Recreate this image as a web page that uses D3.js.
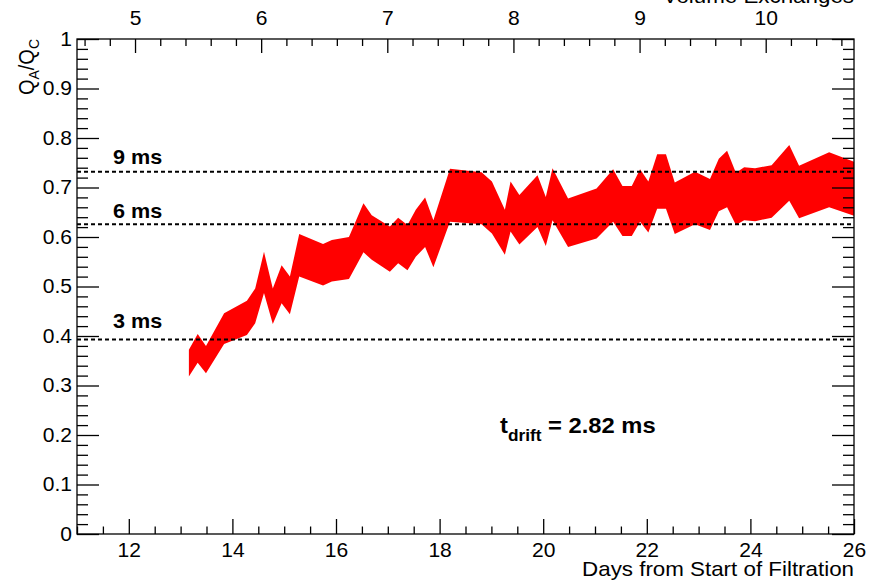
<!DOCTYPE html>
<html>
<head>
<meta charset="utf-8">
<script src="https://cdn.jsdelivr.net/npm/d3@7"></script>
<style>
  html, body { margin: 0; padding: 0; background: #fff; }
  svg { display: block; font-family: "Liberation Sans", Arial, Helvetica, sans-serif; }
</style>
</head>
<body>
<svg id="chart" width="869" height="581"></svg>
<script>
// Charge ratio band vs. time since start of filtration
const days = [13.16, 13.33, 13.49, 13.84, 14.28, 14.44, 14.61, 14.78, 14.95, 15.11,
  15.29, 15.75, 15.92, 16.25, 16.53, 16.69, 17.04, 17.20, 17.38, 17.54,
  17.72, 17.88, 18.20, 18.81, 19.01, 19.26, 19.37, 19.54, 19.89, 20.05,
  20.18, 20.48, 21.03, 21.35, 21.53, 21.71, 21.87, 22.03, 22.20, 22.37,
  22.54, 22.93, 23.22, 23.39, 23.55, 23.72, 23.88, 24.09, 24.41, 24.75,
  24.94, 25.52, 26.00];
const upper = [0.372, 0.404, 0.380, 0.446, 0.471, 0.496, 0.570, 0.496, 0.543, 0.520,
  0.606, 0.586, 0.594, 0.600, 0.668, 0.644, 0.621, 0.639, 0.624, 0.655,
  0.680, 0.634, 0.738, 0.731, 0.712, 0.655, 0.712, 0.685, 0.725, 0.681,
  0.739, 0.678, 0.698, 0.737, 0.703, 0.703, 0.737, 0.712, 0.767, 0.767,
  0.710, 0.732, 0.717, 0.758, 0.774, 0.730, 0.741, 0.739, 0.745, 0.786,
  0.744, 0.771, 0.752];
const lower = [0.318, 0.346, 0.325, 0.384, 0.402, 0.426, 0.487, 0.424, 0.466, 0.444,
  0.520, 0.502, 0.510, 0.515, 0.569, 0.554, 0.530, 0.547, 0.533, 0.560,
  0.580, 0.539, 0.631, 0.626, 0.607, 0.564, 0.611, 0.585, 0.620, 0.582,
  0.634, 0.580, 0.597, 0.631, 0.602, 0.602, 0.631, 0.609, 0.657, 0.657,
  0.606, 0.626, 0.614, 0.652, 0.660, 0.624, 0.634, 0.632, 0.639, 0.673,
  0.638, 0.660, 0.643];

// Drift-time reference levels
const refLevels = [0.393, 0.626, 0.732];
const refLabels = ["3 ms", "6 ms", "9 ms"];

// Axis tick values
const dayTicks = [12, 14, 16, 18, 20, 22, 24, 26];
const exchangeTicks = [5, 6, 7, 8, 9, 10];
const ratioTicks = [0, 0.1, 0.2, 0.3, 0.4, 0.5, 0.6, 0.7, 0.8, 0.9, 1];

const dayDomain = [11, 26];
const exchangeDomain = [4.54, 10.70];
const ratioDomain = [0, 1];

const svg = d3.select("#chart");
const L = 77, R = 854, T = 39, B = 534;
const TXS = 1.08;          // horizontal text stretch
const TICK_FS = 19.5;      // tick label size
const labelGap = [11, 6, 8]; // label baseline above each reference line

const x = d3.scaleLinear().domain(dayDomain).range([L, R]);
const xTop = d3.scaleLinear().domain(exchangeDomain).range([L, R]);
const y = d3.scaleLinear().domain(ratioDomain).range([B, T]);

const band = days.map((d, i) => ({ day: d, hi: upper[i], lo: lower[i] }));

// Band
svg.append("path")
  .datum(band)
  .attr("fill", "#ff0000")
  .attr("stroke", "none")
  .attr("d", d3.area()
    .x(d => x(d.day))
    .y0(d => y(d.lo))
    .y1(d => y(d.hi)));

// Reference lines and labels
refLevels.forEach((v, i) => {
  svg.append("line")
    .attr("x1", x(dayDomain[0])).attr("x2", x(dayDomain[1]))
    .attr("y1", y(v)).attr("y2", y(v))
    .attr("stroke", "#000").attr("stroke-width", 2)
    .attr("stroke-dasharray", "4,3");
  svg.append("text")
    .attr("transform", `translate(113,${y(v) - labelGap[i]}) scale(${TXS},1)`)
    .attr("font-size", 20).attr("font-weight", "bold")
    .text(refLabels[i]);
});

// Frame
svg.append("rect")
  .attr("x", L).attr("y", T).attr("width", R - L).attr("height", B - T)
  .attr("fill", "none").attr("stroke", "#000").attr("stroke-width", 1.3);

function range(a, b, s) {
  const out = [];
  for (let v = a; v <= b + 1e-9; v += s) out.push(Math.round(v * 1000) / 1000);
  return out;
}

function styleAxis(g) {
  g.select(".domain").remove();
  g.selectAll(".tick line").attr("stroke", "#000").attr("stroke-width", 1.3);
  g.selectAll("text").attr("font-size", TICK_FS).attr("fill", "#000")
    .attr("font-family", "'Liberation Sans', Arial, sans-serif");
}

// Bottom axis: days
const dayMinor = range(11, 26, 0.5).filter(v => !dayTicks.includes(v));
svg.append("g").attr("transform", `translate(0,${B})`)
  .call(d3.axisBottom(x).tickValues(dayMinor).tickSize(-7.5).tickFormat(""))
  .call(styleAxis);
svg.append("g").attr("transform", `translate(0,${B})`)
  .call(d3.axisBottom(x).tickValues(dayTicks).tickSize(-15).tickSizeOuter(0).tickPadding(9).tickFormat(d3.format("d")))
  .call(styleAxis)
  .call(g => g.selectAll(".tick text").attr("transform", `scale(${TXS},1)`));

// Top axis: volume exchanges
const exMinor = range(4.6, 10.6, 0.2).filter(v => !exchangeTicks.includes(v));
svg.append("g").attr("transform", `translate(0,${T})`)
  .call(d3.axisTop(xTop).tickValues(exMinor).tickSize(-7).tickFormat(""))
  .call(styleAxis);
svg.append("g").attr("transform", `translate(0,${T})`)
  .call(d3.axisTop(xTop).tickValues(exchangeTicks).tickSize(-14).tickSizeOuter(0).tickPadding(14).tickFormat(d3.format("d")))
  .call(styleAxis)
  .call(g => g.selectAll(".tick text").attr("transform", `scale(${TXS},1)`));

// Left axis: ratio
const ratioMinor = range(0, 1, 0.02).filter(v => Math.abs(v * 10 - Math.round(v * 10)) > 1e-6);
svg.append("g").attr("transform", `translate(${L},0)`)
  .call(d3.axisLeft(y).tickValues(ratioMinor).tickSize(-11).tickFormat(""))
  .call(styleAxis);
svg.append("g").attr("transform", `translate(${L},0)`)
  .call(d3.axisLeft(y).tickValues(ratioTicks).tickSize(-22).tickSizeOuter(0).tickPadding(5)
    .tickFormat(d => d === 0 || d === 1 ? d3.format("d")(d) : d3.format(".1f")(d)))
  .call(styleAxis)
  .call(g => g.selectAll(".tick text").attr("x", -5 / TXS).attr("transform", `scale(${TXS},1)`));

// Right axis: mirrored ticks
svg.append("g").attr("transform", `translate(${R},0)`)
  .call(d3.axisRight(y).tickValues(ratioMinor).tickSize(-11).tickFormat(""))
  .call(styleAxis);
svg.append("g").attr("transform", `translate(${R},0)`)
  .call(d3.axisRight(y).tickValues(ratioTicks).tickSize(-22).tickSizeOuter(0).tickFormat(""))
  .call(styleAxis);

// Axis titles
svg.append("text")
  .attr("transform", `translate(${R},576) scale(${TXS},1)`)
  .attr("text-anchor", "end").attr("font-size", 20.7)
  .text("Days from Start of Filtration");

svg.append("text")
  .attr("transform", `translate(${R},3) scale(${TXS},1)`)
  .attr("text-anchor", "end").attr("font-size", 20.7)
  .text("Volume Exchanges");

const yt = svg.append("text")
  .attr("transform", `translate(34,${T}) scale(${TXS},1) rotate(-90)`)
  .attr("text-anchor", "end").attr("font-size", 20);
yt.append("tspan").text("Q");
yt.append("tspan").attr("dy", 5).attr("font-size", 14).text("A");
yt.append("tspan").attr("dy", -5).text("/Q");
yt.append("tspan").attr("dy", 5).attr("font-size", 14).text("C");

// Drift-time annotation
const td = svg.append("text")
  .attr("transform", `translate(500,433) scale(${TXS},1)`)
  .attr("font-size", 22).attr("font-weight", "bold");
td.append("tspan").text("t");
td.append("tspan").attr("dy", 8).attr("font-size", 16).text("drift");
td.append("tspan").attr("dy", -8).text(" = 2.82 ms");
</script>
</body>
</html>
